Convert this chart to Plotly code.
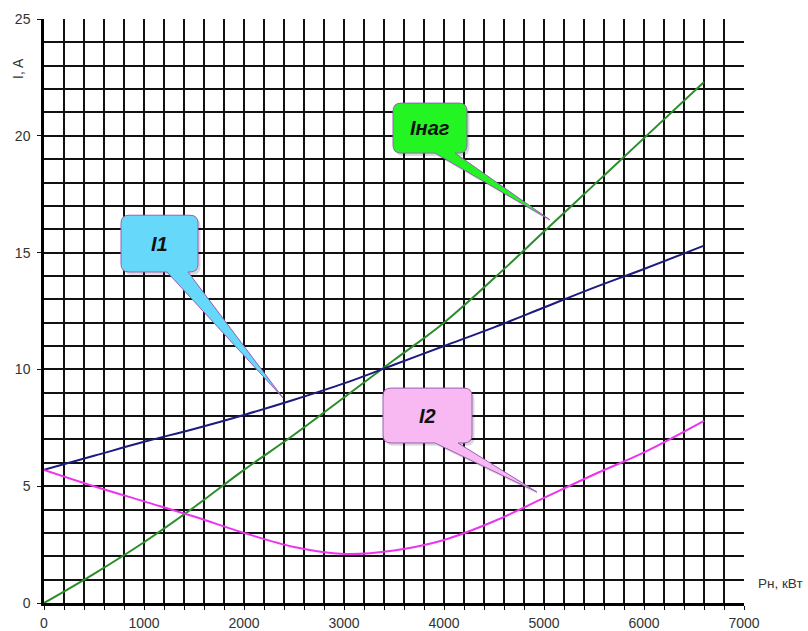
import plotly.graph_objects as go

# Load power, kW
p_load = [0, 500, 1000, 1500, 2000, 2500, 3000, 3500, 4000, 4500, 5000, 5500, 6000, 6600]

# Currents, A
i1 = [5.7, 6.3, 6.9, 7.45, 8.05, 8.7, 9.4, 10.2, 11.0, 11.8, 12.65, 13.5, 14.3, 15.3]
i_nag = [0.0, 1.25, 2.6, 4.1, 5.7, 7.2, 8.8, 10.4, 12.0, 13.9, 15.9, 17.9, 19.9, 22.3]
i2 = [5.7, 5.0, 4.35, 3.7, 3.0, 2.4, 2.1, 2.25, 2.7, 3.5, 4.5, 5.5, 6.45, 7.8]

x_ticks = [0, 1000, 2000, 3000, 4000, 5000, 6000, 7000]
y_ticks = [0, 5, 10, 15, 20, 25]

FONT = "Liberation Sans, Arial"

fig = go.Figure()

fig.add_trace(go.Scatter(x=p_load, y=i_nag, mode="lines", name="Інаг",
                         line=dict(color="#2b8c2b", width=2, shape="spline")))
fig.add_trace(go.Scatter(x=p_load, y=i1, mode="lines", name="I1",
                         line=dict(color="#1c1c7e", width=2, shape="spline")))
fig.add_trace(go.Scatter(x=p_load, y=i2, mode="lines", name="I2",
                         line=dict(color="#ee33ee", width=2, shape="spline")))


def callout(x0, x1, y0, y1, bx0, bx1, tx, ty, rx=80, ry=0.34):
    """Rounded box (x0..x1, y1 bottom..y0 top) with a tail from bottom edge bx0..bx1 to (tx, ty)."""
    return (f"M {x0 + rx},{y0} L {x1 - rx},{y0} Q {x1},{y0} {x1},{y0 - ry} "
            f"L {x1},{y1 + ry} Q {x1},{y1} {x1 - rx},{y1} "
            f"L {bx1},{y1} L {tx},{ty} L {bx0},{y1} "
            f"L {x0 + rx},{y1} Q {x0},{y1} {x0},{y1 + ry} "
            f"L {x0},{y0 - ry} Q {x0},{y0} {x0 + rx},{y0} Z")


callouts = [
    # label, box x-range, box y-range (top, bottom), tail base, tail tip, fill
    ("I1", (770, 1540), (16.6, 14.17), (1230, 1440), (2390, 8.78), "#66d8fa"),
    ("Інаг", (3490, 4230), (21.4, 19.26), (3910, 4110), (5060, 16.4), "#22f522"),
    ("I2", (3390, 4280), (9.2, 6.85), (3910, 4140), (4930, 4.75), "#f8b8f2"),
]

for label, (x0, x1), (ya, yb), (b0, b1), (tx, ty), fill in callouts:
    # soft shadow
    fig.add_shape(type="path", xref="x", yref="y",
                  path=callout(x0 + 25, x1 + 25, ya - 0.12, yb - 0.12, b0 + 25, b1 + 25, tx + 25, ty - 0.12),
                  fillcolor="rgba(0,0,0,0.15)", line=dict(width=0), layer="above")
    fig.add_shape(type="path", xref="x", yref="y",
                  path=callout(x0, x1, ya, yb, b0, b1, tx, ty),
                  fillcolor=fill, line=dict(color="#9a5fb8", width=1), layer="above")
    fig.add_annotation(x=(x0 + x1) / 2, y=(ya + yb) / 2, xref="x", yref="y",
                       text=f"<b><i>{label}</i></b>", showarrow=False,
                       font=dict(family=FONT, size=20, color="#111"))

# axis titles
fig.add_annotation(xref="paper", yref="paper", x=0, y=1, xshift=-26, yshift=-50,
                   text="I, A", showarrow=False, textangle=-90,
                   xanchor="center", yanchor="middle",
                   font=dict(family=FONT, size=14, color="#333"))
fig.add_annotation(xref="paper", yref="paper", x=1, y=0, xshift=12, yshift=20,
                   text="Рн, кВт", showarrow=False, xanchor="left", yanchor="middle",
                   font=dict(family=FONT, size=13.5, color="#333"))

grid_col = "#111111"
tick_font = dict(family=FONT, size=14, color="#333")
fig.update_xaxes(range=[0, 7000], tickvals=x_ticks, showgrid=True, gridcolor=grid_col, gridwidth=1.6,
                 minor=dict(dtick=200, tick0=0, showgrid=True, gridcolor=grid_col, gridwidth=1.6,
                            ticks="outside", ticklen=4, tickcolor="#111"),
                 ticks="outside", ticklen=4, tickcolor="#111", ticklabelstandoff=1,
                 showline=True, linecolor="#000", linewidth=2.5, zeroline=False,
                 automargin=False, tickfont=tick_font)
fig.update_yaxes(range=[0, 25], tickvals=y_ticks, showgrid=True, gridcolor=grid_col, gridwidth=1.6,
                 minor=dict(dtick=1, tick0=0, showgrid=True, gridcolor=grid_col, gridwidth=1.6),
                 ticks="outside", ticklen=4, tickcolor="#111", ticklabelstandoff=4,
                 showline=True, linecolor="#000", linewidth=2.5, zeroline=False,
                 automargin=False, tickfont=tick_font)

fig.update_layout(width=808, height=631, margin=dict(l=44, r=64, t=19, b=28),
                  plot_bgcolor="white", paper_bgcolor="white", showlegend=False)

fig.write_html("out.html")
